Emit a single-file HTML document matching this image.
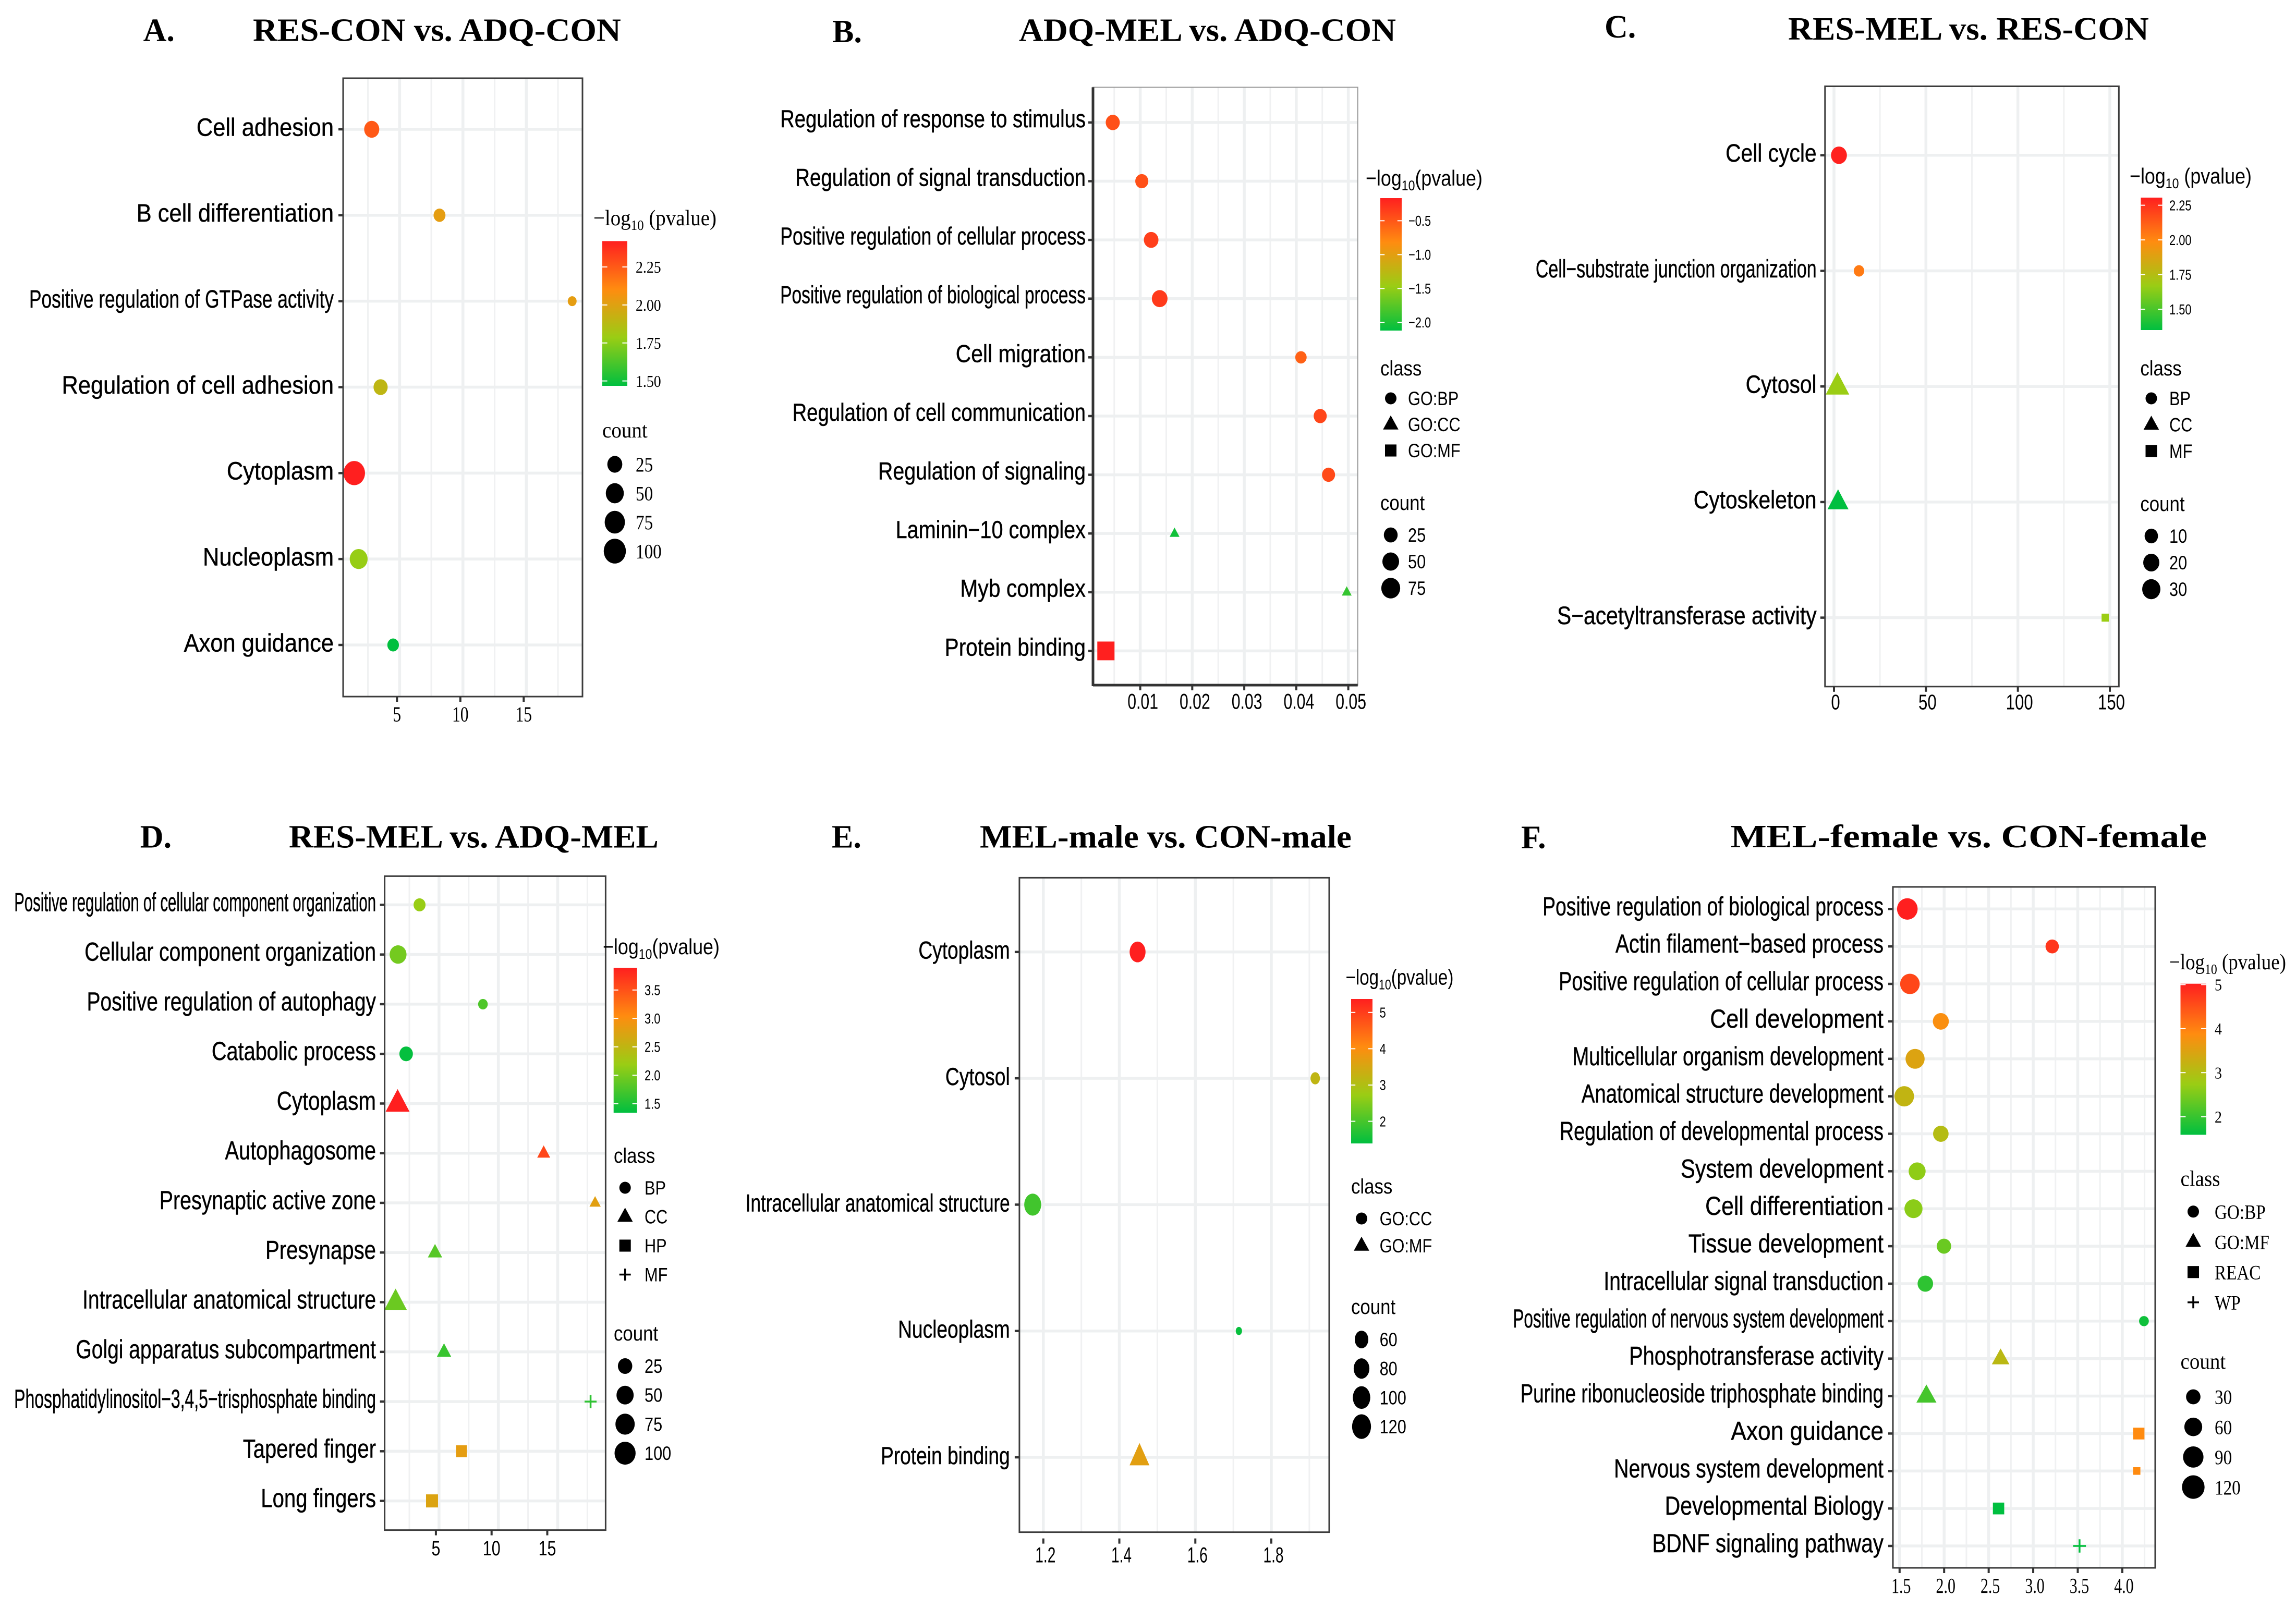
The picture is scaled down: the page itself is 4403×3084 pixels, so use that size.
<!DOCTYPE html>
<html lang="en">
<head>
<meta charset="utf-8">
<title>GO enrichment bubble charts</title>
<style>
html,body{margin:0;padding:0;background:#fff}
svg{display:block}
</style>
</head>
<body>
<svg id="figure" xmlns="http://www.w3.org/2000/svg" width="4403" height="3084" viewBox="0 0 4403 3084">
<rect x="0" y="0" width="4403" height="3084" fill="#fff"/>
</svg>
<script>
/* ---------- Panel A data ---------- */
const aCategories = ['Cell adhesion','B cell differentiation','Positive regulation of GTPase activity','Regulation of cell adhesion','Cytoplasm','Nucleoplasm','Axon guidance'];
const aValues = [2.8,8.15,18.62,3.5,1.42,1.77,4.49];
const aCounts = [26,10,5,20,92,49,9];
const aLogP = [2.25,2.02,2.02,1.9,2.42,1.78,1.47];
const aClasses = ['BP','BP','BP','BP','BP','BP','BP'];
const aClassLabels = ['BP'];
const aXTicks = [5,10,15];
const aColorTicks = [2.25,2,1.75,1.5];
const aCountBreaks = [25,50,75,100];

/* ---------- Panel B data ---------- */
const bCategories = ['Regulation of response to stimulus','Regulation of signal transduction','Positive regulation of cellular process','Positive regulation of biological process','Cell migration','Regulation of cell communication','Regulation of signaling','Laminin\u221210 complex','Myb complex','Protein binding'];
const bValues = [0.00472,0.0103,0.0121,0.01374,0.0409,0.0446,0.0462,0.0166,0.0497,0.0034];
const bCounts = [27,20,31,40,11,20,20,2,2,55];
const bLogP = [-0.46,-0.46,-0.36,-0.33,-0.56,-0.4,-0.42,-2.05,-1.9,-0.17];
const bClasses = ['GO:BP','GO:BP','GO:BP','GO:BP','GO:BP','GO:BP','GO:BP','GO:CC','GO:CC','GO:MF'];
const bClassLabels = ['GO:BP','GO:CC','GO:MF'];
const bXTicks = [0.01,0.02,0.03,0.04,0.05];
const bColorTicks = [-0.5,-1,-1.5,-2];
const bCountBreaks = [25,50,75];

/* ---------- Panel C data ---------- */
const cCategories = ['Cell cycle','Cell\u2212substrate junction organization','Cytosol','Cytoskeleton','S\u2212acetyltransferase activity'];
const cValues = [2.7,13.6,1.9,2.2,147.5];
const cCounts = [19,3.4,26,17.5,1];
const cLogP = [2.3,2.04,1.67,1.35,1.67];
const cClasses = ['BP','BP','CC','CC','MF'];
const cClassLabels = ['BP','CC','MF'];
const cXTicks = [0,50,100,150];
const cColorTicks = [2.25,2,1.75,1.5];
const cCountBreaks = [10,20,30];

/* ---------- Panel D data ---------- */
const dCategories = ['Positive regulation of cellular component organization','Cellular component organization','Positive regulation of autophagy','Catabolic process','Cytoplasm','Autophagosome','Presynaptic active zone','Presynapse','Intracellular anatomical structure','Golgi apparatus subcompartment','Phosphatidylinositol\u22123,4,5\u2212trisphosphate binding','Tapered finger','Long fingers'];
const dValues = [3.36,1.55,8.7,2.23,1.51,13.82,18.15,4.66,1.34,5.42,17.77,6.89,4.41];
const dCounts = [11,47,4,19,56,4,3,6,45,6,11,7,11];
const dLogP = [2.18,1.98,1.77,1.36,3.89,3.58,2.79,1.82,1.93,1.65,1.6,2.82,2.74];
const dClasses = ['BP','BP','BP','BP','CC','CC','CC','CC','CC','CC','MF','HP','HP'];
const dClassLabels = ['BP','CC','HP','MF'];
const dXTicks = [5,10,15];
const dColorTicks = [3.5,3,2.5,2,1.5];
const dCountBreaks = [25,50,75,100];

/* ---------- Panel E data ---------- */
const eCategories = ['Cytoplasm','Cytosol','Intracellular anatomical structure','Nucleoplasm','Protein binding'];
const eValues = [1.448,1.9155,1.172,1.7146,1.453];
const eCounts = [82.5,35.5,94,30,70];
const eLogP = [5.37,3.2,1.95,1.45,3.66];
const eClasses = ['GO:CC','GO:CC','GO:CC','GO:CC','GO:MF'];
const eClassLabels = ['GO:CC','GO:MF'];
const eXTicks = [1.2,1.4,1.6,1.8];
const eColorTicks = [5,4,3,2];
const eCountBreaks = [60,80,100,120];

/* ---------- Panel F data ---------- */
const fCategories = ['Positive regulation of biological process','Actin filament\u2212based process','Positive regulation of cellular process','Cell development','Multicellular organism development','Anatomical structure development','Regulation of developmental process','System development','Cell differentiation','Tissue development','Intracellular signal transduction','Positive regulation of nervous system development','Phosphotransferase activity','Purine ribonucleoside triphosphate binding','Axon guidance','Nervous system development','Developmental Biology','BDNF signaling pathway'];
const fValues = [1.587,3.213,1.616,1.963,1.674,1.552,1.963,1.697,1.656,1.998,1.789,4.243,2.634,1.801,4.185,4.162,2.611,3.52];
const fCounts = [92,23,79,42,73,79,38,51,62,30,38,8,21,33,13,5,13,20];
const fLogP = [5.02,4.78,4.6,3.82,3.48,3.17,3.03,2.65,2.62,2.38,1.93,1.7,3.1,2.1,3.89,3.89,1.59,1.62];
const fClasses = ['GO:BP','GO:BP','GO:BP','GO:BP','GO:BP','GO:BP','GO:BP','GO:BP','GO:BP','GO:BP','GO:BP','GO:BP','GO:MF','GO:MF','REAC','REAC','REAC','WP'];
const fClassLabels = ['GO:BP','GO:MF','REAC','WP'];
const fXTicks = [1.5,2,2.5,3,3.5,4];
const fColorTicks = [5,4,3,2];
const fCountBreaks = [30,60,90,120];

/* ---------- Rendering ---------- */
const NS = 'http://www.w3.org/2000/svg';
const SANS = '"Liberation Sans", sans-serif';
const SERIF = '"Liberation Serif", serif';
const GRADIENT = [[0,[0,191,63]],[1/3,[154,205,20]],[2/3,[255,140,16]],[1,[255,31,31]]];
const SHAPES = ['circle','triangle','square','plus'];
const root = document.getElementById('figure');

const STYLE_SANS = {family:SANS,tickFs:28,tickSq:0.78,headFs:40,headSq:0.87,itemFs:37,itemSq:0.83};
const STYLE_SERIF = {family:SERIF,tickFs:32,tickSq:0.87,headFs:42,headSq:0.93,itemFs:39,itemSq:0.85};

const panels = [
{id:'a',letter:'A.',letterX:274.6,letterY:78.6,title:'RES-CON vs. ADQ-CON',titleX:485,titleW:706,titleY:78.6,
 box:[658,150,1117,1336],boxKind:'full',cats:aCategories,vals:aValues,counts:aCounts,logp:aLogP,classes:aClasses,classLabels:aClassLabels,
 xTicks:aXTicks,xDomain:[5,15],xRange:[766.3,1009.3],decimals:0,yFirst:248,yLast:1237,
 labelFs:48,labelRight:640,labelDy:-5,fit:{sq:0.905,exp:1,cap:584},axisFont:{family:SERIF,fs:41,sq:0.77,y:1369,tickDx:-5,labelDx:-5,labelDrift:0},
 aspect:1.12,size:{domain:[5,104],range:[17,43]},
 legend:{style:STYLE_SERIF,titleX:1138,titleY:432,titleW:236,titleGap:' (pvalue)',bar:[1155,462.4,1203,740],logDomain:[1.468,2.42],ticks:aColorTicks,tickDecimals:2,tickX:1219,
  showClass:false,countX:1155,countTitleY:839,shapeX:1179,itemX:1219,countFirst:890.5,countStep:55.5,breaks:aCountBreaks}},
{id:'b',letter:'B.',letterX:1596,letterY:81,title:'ADQ-MEL vs. ADQ-CON',titleX:1954,titleW:723,titleY:78.6,
 box:[2096,167.4,2603.7,1314],boxKind:'open',cats:bCategories,vals:bValues,counts:bCounts,logp:bLogP,classes:bClasses,classLabels:bClassLabels,
 xTicks:bXTicks,xDomain:[0.01,0.05],xRange:[2186.6,2585.6],decimals:2,yFirst:234.9,yLast:1248.4,
 labelFs:47,labelRight:2082,labelDy:-8,fit:{sq:0.865,exp:0.93,cap:586},axisFont:{family:SANS,fs:42,sq:0.72,y:1345,tickDx:0,labelDx:5,labelDrift:0},
 aspect:1.09,size:{domain:[2,80],range:[14,37]},
 legend:{style:STYLE_SANS,titleX:2619,titleY:356,titleW:224,titleGap:'(pvalue)',bar:[2647,380,2688,634],logDomain:[-2.12,-0.166],ticks:bColorTicks,tickDecimals:1,tickX:2701,
  showClass:true,classX:2647,classTitleY:720,classFirst:764,classStep:50,countX:2647,countTitleY:978,shapeX:2667,itemX:2700,countFirst:1026,countStep:51,breaks:bCountBreaks}},
{id:'c',letter:'C.',letterX:3077,letterY:72,title:'RES-MEL vs. RES-CON',titleX:3429,titleW:692,titleY:76,
 box:[3499.8,165.5,4063.3,1316.8],boxKind:'full',cats:cCategories,vals:cValues,counts:cCounts,logp:cLogP,classes:cClasses,classLabels:cClassLabels,
 xTicks:cXTicks,xDomain:[0,150],xRange:[3517,4046],decimals:0,yFirst:297.8,yLast:1184.6,
 labelFs:48,labelRight:3483.6,labelDy:-5,fit:{sq:0.85,exp:1,cap:539},axisFont:{family:SANS,fs:41,sq:0.76,y:1346,tickDx:0,labelDx:3,labelDrift:0},
 aspect:1.1,size:{domain:[1,33],range:[14,36]},
 legend:{style:STYLE_SANS,titleX:4084,titleY:352,titleW:234,titleGap:' (pvalue)',bar:[4105.4,379,4146.5,633],logDomain:[1.35,2.305],ticks:cColorTicks,tickDecimals:2,tickX:4160,
  showClass:true,classX:4104.4,classTitleY:720,classFirst:764,classStep:50.5,countX:4104.4,countTitleY:980,shapeX:4125.5,itemX:4160,countFirst:1028,countStep:51,breaks:cCountBreaks}},
{id:'d',letter:'D.',letterX:268.8,letterY:1625.4,title:'RES-MEL vs. ADQ-MEL',titleX:554,titleW:709,titleY:1625.4,
 box:[737.6,1680.4,1161.4,2934.6],boxKind:'full',cats:dCategories,vals:dValues,counts:dCounts,logp:dLogP,classes:dClasses,classLabels:dClassLabels,
 xTicks:dXTicks,xDomain:[5,15],xRange:[841.9,1069.5],decimals:0,yFirst:1735.4,yLast:2878.6,
 labelFs:50,labelRight:721,labelDy:-6,fit:{sq:0.8,exp:0.97,cap:694},axisFont:{family:SANS,fs:40,sq:0.76,y:2969,tickDx:-6,labelDx:-6,labelDrift:-7},
 aspect:1.09,size:{domain:[3,105],range:[16,41]},
 legend:{style:STYLE_SANS,titleX:1156,titleY:1830,titleW:224,titleGap:'(pvalue)',bar:[1176.7,1856.3,1221.7,2134.2],logDomain:[1.34,3.89],ticks:dColorTicks,tickDecimals:1,tickX:1236,
  showClass:true,classX:1177,classTitleY:2230,classFirst:2278,classStep:55.5,countX:1177,countTitleY:2571,shapeX:1198.7,itemX:1236,countFirst:2620,countStep:55.7,breaks:dCountBreaks}},
{id:'e',letter:'E.',letterX:1595,letterY:1625.4,title:'MEL-male vs. CON-male',titleX:1879,titleW:713,titleY:1625.4,
 box:[1954.9,1683.4,2549,2938.6],boxKind:'full',cats:eCategories,vals:eValues,counts:eCounts,logp:eLogP,classes:eClasses,classLabels:eClassLabels,
 xTicks:eXTicks,xDomain:[1.2,1.8],xRange:[2000.8,2438],decimals:1,yFirst:1825.8,yLast:2795,
 labelFs:47,labelRight:1936.7,labelDy:-4,fit:{sq:0.79,exp:1,cap:507},axisFont:{family:SANS,fs:42,sq:0.67,y:2981.8,tickDx:0,labelDx:4,labelDrift:0,tickGap:12},
 aspect:1.3,size:{domain:[30,125],range:[12,37]},
 legend:{style:STYLE_SANS,titleX:2580.5,titleY:1888.7,titleW:207,titleGap:'(pvalue)',bar:[2591,1916,2632,2193],logDomain:[1.39,5.37],ticks:eColorTicks,tickDecimals:0,tickX:2645.6,
  showClass:true,classX:2591,classTitleY:2289,classFirst:2337,classStep:52,countX:2591,countTitleY:2520,shapeX:2611,itemX:2645.6,countFirst:2569,countStep:55.7,breaks:eCountBreaks}},
{id:'f',letter:'F.',letterX:2917,letterY:1626.4,title:'MEL-female vs. CON-female',titleX:3318.6,titleW:913.4,titleY:1625,
 box:[3630,1701,4133,3007],boxKind:'full',cats:fCategories,vals:fValues,counts:fCounts,logp:fLogP,classes:fClasses,classLabels:fClassLabels,
 xTicks:fXTicks,xDomain:[1.5,4],xRange:[3642.8,4069.9],decimals:1,yFirst:1743.3,yLast:2965,
 labelFs:50,labelRight:3612,labelDy:-6,fit:{sq:0.9,exp:0.826,cap:711},axisFont:{family:SERIF,fs:41,sq:0.73,y:3040.7,tickDx:0,labelDx:3,labelDrift:0},
 aspect:1.04,size:{domain:[5,125],range:[14,44]},
 legend:{style:STYLE_SERIF,titleX:4160,titleY:1859,titleW:224,titleGap:' (pvalue)',bar:[4181.5,1886.7,4231,2176.4],logDomain:[1.59,5.02],ticks:fColorTicks,tickDecimals:0,tickX:4247,
  showClass:true,classX:4181.5,classTitleY:2274.6,classFirst:2323.7,classStep:58,countX:4181.5,countTitleY:2625,shapeX:4206,itemX:4247,countFirst:2679,countStep:57.7,breaks:fCountBreaks}}
];

function make(tag, parent, attrs) {
  const el = document.createElementNS(NS, tag);
  for (const k in attrs) el.setAttribute(k, attrs[k]);
  parent.appendChild(el);
  return el;
}
function linear(domain, range) {
  return v => range[0] + (v - domain[0]) * (range[1] - range[0]) / (domain[1] - domain[0]);
}
function slug(s) {
  return String(s).toLowerCase().replace(/[^a-z0-9]+/g, '-').replace(/^-|-$/g, '');
}
function colorAt(t) {
  t = Math.max(0, Math.min(1, t));
  for (let i = 1; i < GRADIENT.length; i++) {
    if (t <= GRADIENT[i][0]) {
      const a = GRADIENT[i - 1], b = GRADIENT[i], f = (t - a[0]) / (b[0] - a[0]);
      const c = a[1].map((v, j) => Math.round(v + (b[1][j] - v) * f));
      return 'rgb(' + c.join(',') + ')';
    }
  }
  return 'rgb(255,31,31)';
}
function addText(parent, str, x, y, o) {
  const el = make('text', parent, {
    'font-family': o.family, 'font-size': o.fs, 'font-weight': o.weight || 'normal',
    'text-anchor': o.anchor || 'start', fill: '#000'
  });
  if (o.stroke) {
    el.setAttribute('stroke', '#000');
    el.setAttribute('stroke-width', o.stroke);
  }
  el.textContent = str;
  const natural = el.getComputedTextLength();
  let sx = o.sq || 1;
  if (o.width) sx = o.width / natural;
  if (o.fit) sx = o.fit(natural) / natural;
  el.setAttribute('transform', 'translate(' + x + ',' + y + ') scale(' + sx.toFixed(4) + ',1)');
  return el;
}
function drawMark(parent, shape, cx, cy, d, aspect, fill) {
  if (shape === 'circle') {
    return make('ellipse', parent, {cx: cx, cy: cy, rx: d / 2, ry: d * aspect / 2, fill: fill});
  }
  if (shape === 'triangle') {
    const w = d * 1.35, h = w * 0.866 * aspect;
    const pts = [[cx, cy - 0.64 * h], [cx + w / 2, cy + 0.36 * h], [cx - w / 2, cy + 0.36 * h]];
    return make('polygon', parent, {points: pts.map(p => p[0].toFixed(1) + ',' + p[1].toFixed(1)).join(' '), fill: fill});
  }
  if (shape === 'square') {
    const h = d * aspect;
    return make('rect', parent, {x: cx - d / 2, y: cy - h / 2, width: d, height: h, fill: fill});
  }
  const r = d / 2;
  return make('path', parent, {d: 'M' + (cx - r) + ' ' + cy + 'H' + (cx + r) + 'M' + cx + ' ' + (cy - r * aspect) + 'V' + (cy + r * aspect), stroke: fill, 'stroke-width': 3.5, fill: 'none'});
}

const defs = make('defs', root, {});
const grad = make('linearGradient', defs, {id: 'heat', x1: 0, y1: 1, x2: 0, y2: 0});
GRADIENT.forEach(s => {
  make('stop', grad, {offset: s[0], 'stop-color': 'rgb(' + s[1].join(',') + ')'});
});

panels.forEach(p => {
  const g = make('g', root, {});
  
  

  const [bx0, by0, bx1, by1] = p.box;
  const x = linear(p.xDomain, p.xRange);
  const n = p.cats.length;
  const y = i => p.yFirst + i * (p.yLast - p.yFirst) / (n - 1);
  const sizeOf = c => {
    const f = Math.max(0, (c - p.size.domain[0]) / (p.size.domain[1] - p.size.domain[0]));
    return p.size.range[0] + (p.size.range[1] - p.size.range[0]) * Math.sqrt(f);
  };
  const colorT = linear(p.legend.logDomain, [0, 1]);

  /* titles */
  const letter = addText(g, p.letter, p.letterX, p.letterY, {family: SERIF, fs: 62, weight: 'bold'});
  
  
  const title = addText(g, p.title, p.titleX, p.titleY, {family: SERIF, fs: 62, weight: 'bold', width: p.titleW});
  
  

  /* background */
  const bg = make('rect', g, {x: bx0, y: by0, width: bx1 - bx0, height: by1 - by0, fill: '#fff'});
  
  

  /* vertical grid */
  const step = p.xTicks[1] - p.xTicks[0];
  for (let v = p.xTicks[0] - step / 2; x(v) < bx1; v += step) {
    if (x(v) <= bx0) continue;
    const minor = make('line', g, {x1: x(v), x2: x(v), y1: by0, y2: by1, stroke: '#f0f1f2', 'stroke-width': 3});
    
    
  }
  p.xTicks.forEach(t => {
    const major = make('line', g, {x1: x(t), x2: x(t), y1: by0, y2: by1, stroke: '#eef0f1', 'stroke-width': 5.5});
    
    
  });
  /* horizontal grid + y axis */
  p.cats.forEach((cat, i) => {
    const line = make('line', g, {x1: bx0, x2: bx1, y1: y(i), y2: y(i), stroke: '#eef0f1', 'stroke-width': 5.5});
    
    
    const tick = make('line', g, {x1: bx0 - 9, x2: bx0, y1: y(i), y2: y(i), stroke: '#333', 'stroke-width': 4.5});
    
    
    const label = addText(g, cat, p.labelRight, y(i) + 0.36 * p.labelFs + p.labelDy, {
      family: SANS, fs: p.labelFs, anchor: 'end', stroke: 0.5,
      fit: L => Math.min(p.fit.cap, p.fit.sq * 300 * Math.pow(L / 300, p.fit.exp))
    });
    
    
  });

  /* marks */
  p.cats.forEach((cat, i) => {
    const shape = SHAPES[p.classLabels.indexOf(p.classes[i])];
    const mark = drawMark(g, shape, x(p.vals[i]), y(i), sizeOf(p.counts[i]), p.aspect, colorAt(colorT(p.logp[i])));
    
    
  });

  /* panel border */
  if (p.boxKind === 'full') {
    const border = make('rect', g, {x: bx0, y: by0, width: bx1 - bx0, height: by1 - by0, fill: 'none', stroke: '#3c3c3c', 'stroke-width': 3});
    
    
  } else {
    const border = make('rect', g, {x: bx0, y: by0, width: bx1 - bx0, height: by1 - by0, fill: 'none', stroke: '#9a9a9a', 'stroke-width': 2});
    
    
    const axisL = make('line', g, {x1: bx0, x2: bx0, y1: by0, y2: by1 + 2, stroke: '#333', 'stroke-width': 5});
    
    
    const axisB = make('line', g, {x1: bx0, x2: bx1, y1: by1, y2: by1, stroke: '#333', 'stroke-width': 5});
    
    
  }

  /* x axis */
  const af = p.axisFont;
  const gap = af.tickGap || 0;
  p.xTicks.forEach((t, i) => {
    const drift = af.labelDrift * i;
    const tick = make('line', g, {x1: x(t) + af.tickDx + drift, x2: x(t) + af.tickDx + drift, y1: by1 + gap, y2: by1 + gap + 10, stroke: '#333', 'stroke-width': 4});
    
    
    const label = addText(g, t.toFixed(p.decimals), x(t) + af.labelDx + drift, af.y + 0.35 * af.fs, {family: af.family, fs: af.fs, anchor: 'middle', sq: af.sq});
    
    
  });

  /* legend */
  const L = p.legend, S = L.style;
  const lg = make('g', g, {});
  
  

  const lt = make('text', lg, {'font-family': S.family, 'font-size': 42, fill: '#000'});
  
  
  const t1 = make('tspan', lt, {});
  t1.textContent = '\u2212log';
  const t2 = make('tspan', lt, {'font-size': 27, dy: 9});
  t2.textContent = '10';
  const t3 = make('tspan', lt, {dy: -9});
  t3.textContent = L.titleGap;
  const titleLen = lt.getComputedTextLength();
  lt.setAttribute('transform', 'translate(' + L.titleX + ',' + L.titleY + ') scale(' + (L.titleW / titleLen).toFixed(4) + ',1)');

  const [cx0, cy0, cx1, cy1] = L.bar;
  const colorbar = make('rect', lg, {x: cx0, y: cy0, width: cx1 - cx0, height: cy1 - cy0, fill: 'url(#heat)'});
  
  
  const barY = linear(L.logDomain, [cy1, cy0]);
  const notch = (cx1 - cx0) / 5;
  L.ticks.forEach(v => {
    const yy = barY(v);
    const nl = make('path', lg, {d: 'M' + cx0 + ' ' + yy + 'h' + notch + 'M' + cx1 + ' ' + yy + 'h' + (-notch), stroke: '#fff', 'stroke-width': 2, fill: 'none'});
    
    
    const tl = addText(lg, v.toFixed(L.tickDecimals).replace('-', '\u2212'), L.tickX, yy + 0.35 * S.tickFs, {family: S.family, fs: S.tickFs, sq: S.tickSq});
    
    
  });

  if (L.showClass) {
    const head = addText(lg, 'class', L.classX, L.classTitleY, {family: S.family, fs: S.headFs, sq: S.headSq});
    
    
    p.classLabels.forEach((c, i) => {
      const yy = L.classFirst + i * L.classStep;
      const key = drawMark(lg, SHAPES[i], L.shapeX, yy, 22, 1.05, '#000');
      
      
      const txt = addText(lg, c, L.itemX, yy + 0.35 * S.itemFs, {family: S.family, fs: S.itemFs, sq: S.itemSq});
      
      
    });
  }

  const ch = addText(lg, 'count', L.countX, L.countTitleY, {family: S.family, fs: S.headFs, sq: S.headSq});
  
  
  L.breaks.forEach((c, i) => {
    const yy = L.countFirst + i * L.countStep;
    const key = drawMark(lg, 'circle', L.shapeX, yy, sizeOf(c), p.aspect, '#000');
    
    
    const txt = addText(lg, String(c), L.itemX, yy + 0.35 * S.itemFs, {family: S.family, fs: S.itemFs, sq: S.itemSq});
    
    
  });
});
</script>
</body>
</html>
